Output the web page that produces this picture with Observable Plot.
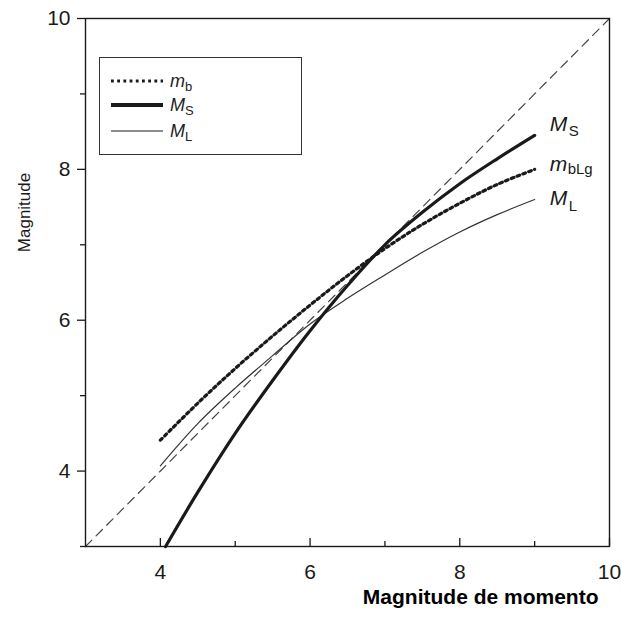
<!DOCTYPE html>
<html>
<head>
<meta charset="utf-8">
<script src="https://cdn.jsdelivr.net/npm/d3@7"></script>
<script src="https://cdn.jsdelivr.net/npm/@observablehq/plot@0.6"></script>
<style>
  body { margin: 0; background: #fff; }
  #wrap { position: relative; width: 621px; height: 618px; font-family: "Liberation Sans", Arial, sans-serif; color: #222; }
  #legend { position: absolute; left: 99px; top: 57px; width: 203px; height: 98px; border: 1px solid #333; box-sizing: border-box; background: #fff; }
  .lg-row { position: absolute; left: 11px; height: 20px; display: flex; align-items: center; }
  .lg-row svg { width: 52px; height: 8px; }
  .lg-row span { margin-left: 7px; font-size: 18px; }
  .lg-row i { font-style: italic; }
  .lg-row sub { font-size: 13px; font-style: normal; vertical-align: -4px; line-height: 0; }
</style>
</head>
<body>
<div id="wrap">
  <div id="chart"></div>
  <div id="legend"></div>
</div>
<script>
// ---- data ----
const xGrid = [4, 4.5, 5, 5.5, 6, 6.5, 7, 7.5, 8, 8.5, 9];
const mbValues = [4.41, 4.90, 5.36, 5.79, 6.20, 6.59, 6.95, 7.27, 7.55, 7.80, 8.00];
const mlValues = [4.07, 4.63, 5.10, 5.53, 5.95, 6.29, 6.60, 6.90, 7.17, 7.40, 7.60];
const msX = [4.07, 4.5, 5, 5.5, 6, 6.5, 7, 7.5, 8, 8.5, 9];
const msValues = [3.00, 3.72, 4.50, 5.20, 5.86, 6.46, 7.00, 7.43, 7.81, 8.14, 8.45];
const diagonal = [3, 10];
const majorTicks = [4, 6, 8, 10];
const minorTicksX = [5, 7, 9];
const minorTicksY = [3, 5, 7, 9];
const xLabel = "Magnitude de momento";
const yLabel = "Magnitude";
const endLabels = {MS: ["M", "S"], mb: ["m", "bLg"], ML: ["M", "L"]};

const mb = xGrid.map((x, i) => ({x, y: mbValues[i]}));
const ml = xGrid.map((x, i) => ({x, y: mlValues[i]}));
const ms = msX.map((x, i) => ({x, y: msValues[i]}));
const diag = diagonal.map(v => ({x: v, y: v}));
const last = a => [a[a.length - 1]];
const fmt = d => String(d);

const ink = "#1a1a1a";
const chart = Plot.plot({
  width: 621,
  height: 618,
  marginLeft: 85,
  marginRight: 12,
  marginTop: 18,
  marginBottom: 72,
  x: {domain: [3, 10]},
  y: {domain: [3, 10]},
  style: {fontFamily: "'Liberation Sans', Arial, sans-serif", color: ink, background: "#fff", overflow: "visible"},
  marks: [
    Plot.line(diag, {x: "x", y: "y", stroke: "#444", strokeWidth: 1.2, strokeDasharray: "9,6"}),
    Plot.line(ml, {x: "x", y: "y", stroke: "#333", strokeWidth: 1.2, curve: "catmull-rom"}),
    Plot.line(mb, {x: "x", y: "y", stroke: ink, strokeWidth: 3.2, strokeDasharray: "2.8,3.4", curve: "catmull-rom"}),
    Plot.line(ms, {x: "x", y: "y", stroke: ink, strokeWidth: 3.2, curve: "catmull-rom"}),
    // end labels
    Plot.text(last(ms), {x: "x", y: "y", text: () => endLabels.MS[0], textAnchor: "start", dx: 15, dy: -11, fontSize: "21px", fontStyle: "italic", fill: ink}),
    Plot.text(last(ms), {x: "x", y: "y", text: () => endLabels.MS[1], textAnchor: "start", dx: 34, dy: -4, fontSize: "15px", fill: ink}),
    Plot.text(last(mb), {x: "x", y: "y", text: () => endLabels.mb[0], textAnchor: "start", dx: 15, dy: -5, fontSize: "21px", fontStyle: "italic", fill: ink}),
    Plot.text(last(mb), {x: "x", y: "y", text: () => endLabels.mb[1], textAnchor: "start", dx: 33, dy: 0, fontSize: "15px", fill: ink}),
    Plot.text(last(ml), {x: "x", y: "y", text: () => endLabels.ML[0], textAnchor: "start", dx: 15, dy: -1, fontSize: "21px", fontStyle: "italic", fill: ink}),
    Plot.text(last(ml), {x: "x", y: "y", text: () => endLabels.ML[1], textAnchor: "start", dx: 34, dy: 7, fontSize: "15px", fill: ink}),
    // axes
    Plot.axisX({ticks: majorTicks, tickSize: -8, text: null, label: null, strokeWidth: 1.3}),
    Plot.axisX({ticks: minorTicksX, tickSize: -5, text: null, label: null, strokeWidth: 1.3}),
    Plot.axisX({ticks: majorTicks, tickSize: 0, tickPadding: 18, tickFormat: fmt, label: null, fontSize: "21px"}),
    Plot.axisY({ticks: majorTicks, tickSize: 8, tickPadding: 7, tickFormat: fmt, label: null, fontSize: "21px", strokeWidth: 1.3}),
    Plot.axisY({ticks: minorTicksY, tickSize: 5, text: null, label: null, strokeWidth: 1.3}),
    Plot.frame({stroke: ink, strokeWidth: 1.4}),
    Plot.text([xLabel], {frameAnchor: "bottom-right", textAnchor: "end", dx: -11, dy: 57, fontSize: "21px", fontWeight: "bold", fill: "#000"}),
    Plot.text([yLabel], {frameAnchor: "left", textAnchor: "middle", lineAnchor: "middle", rotate: -90, dx: -61, dy: -70, fontSize: "17px", fill: ink})
  ]
});
document.getElementById("chart").appendChild(chart);

// legend
const legendItems = [
  {main: "m", sub: "b", width: 3.2, dash: "2.8,3.4", top: 13},
  {main: "M", sub: "S", width: 4, dash: null, top: 37},
  {main: "M", sub: "L", width: 1.2, dash: null, top: 63}
];
const legend = document.getElementById("legend");
legendItems.forEach(d => {
  const row = document.createElement("div");
  row.className = "lg-row";
  row.style.top = d.top + "px";
  row.innerHTML = `<svg viewBox="0 0 52 8"><line x1="0" x2="52" y1="4" y2="4" stroke="${ink}" stroke-width="${d.width}" ${d.dash ? `stroke-dasharray="${d.dash}"` : ""}/></svg><span><i>${d.main}</i><sub>${d.sub}</sub></span>`;
  legend.appendChild(row);
});
</script>
</body>
</html>
